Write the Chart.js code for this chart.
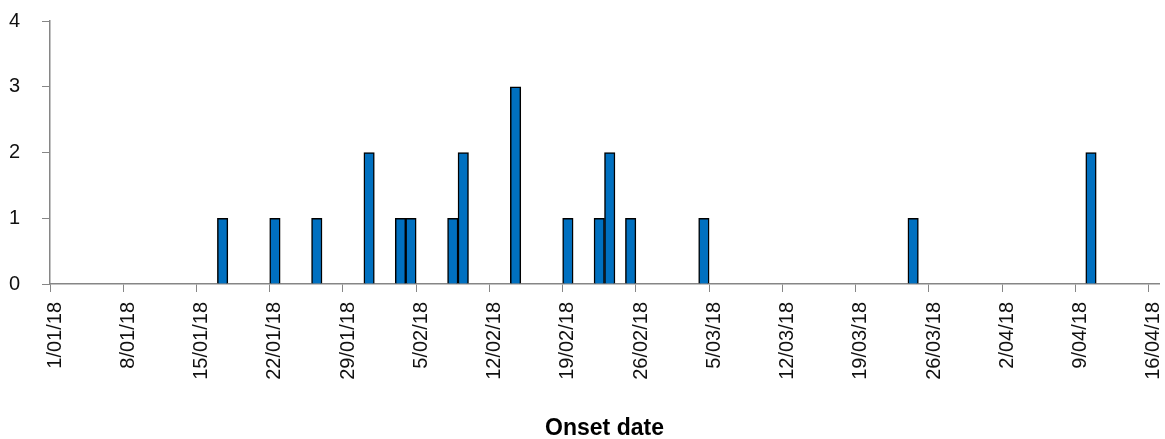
<!DOCTYPE html>
<html>
<head>
<meta charset="utf-8">
<script src="https://cdn.jsdelivr.net/npm/chart.js@4"></script>
<style>
  body { margin: 0; background: #fff; }
  #wrap { width: 1165px; height: 439px; position: relative; }
</style>
</head>
<body>
<div id="wrap"><canvas id="onsetChart"></canvas></div>
<script>
// cases by onset date
const onsetDates = ['17/01/18', '22/01/18', '26/01/18', '31/01/18', '3/02/18', '4/02/18', '8/02/18', '9/02/18',
  '14/02/18', '19/02/18', '22/02/18', '23/02/18', '25/02/18', '4/03/18', '24/03/18', '10/04/18'];
const caseCounts = [1, 1, 1, 2, 1, 1, 1, 2, 3, 1, 1, 2, 1, 1, 1, 2];

// labels shown on the axis (weekly)
const tickLabels = ['1/01/18', '8/01/18', '15/01/18', '22/01/18', '29/01/18', '5/02/18', '12/02/18', '19/02/18',
  '26/02/18', '5/03/18', '12/03/18', '19/03/18', '26/03/18', '2/04/18', '9/04/18', '16/04/18'];
const yTicks = [0, 1, 2, 3, 4];

// one category per day, 1 Jan to 16 Apr 2018
const days = [];
for (let d = new Date(2018, 0, 1); d <= new Date(2018, 3, 16); d.setDate(d.getDate() + 1)) {
  const mm = String(d.getMonth() + 1).padStart(2, '0');
  days.push(d.getDate() + '/' + mm + '/18');
}
const dailyCounts = days.map(day => {
  const i = onsetDates.indexOf(day);
  return i >= 0 ? caseCounts[i] : 0;
});

const axisColor = '#868686';

new Chart(document.getElementById('onsetChart'), {
  type: 'bar',
  data: {
    labels: days,
    datasets: [{
      data: dailyCounts,
      backgroundColor: '#0070C0',
      borderColor: '#000',
      borderWidth: 1.5,
      barPercentage: 1,
      categoryPercentage: 1
    }]
  },
  options: {
    responsive: true,
    maintainAspectRatio: false,
    animation: false,
    layout: { padding: { top: 21, right: 6, left: 0, bottom: 0 } },
    plugins: { legend: { display: false }, tooltip: { enabled: false } },
    scales: {
      x: {
        offset: true,
        grid: {
          offset: true,
          drawOnChartArea: false,
          tickLength: 8,
          color: ctx => (ctx.index !== undefined && ctx.tick && tickLabels.includes(days[ctx.index])) ? axisColor : 'rgba(0,0,0,0)'
        },
        border: { color: axisColor, width: 1.5 },
        ticks: {
          autoSkip: false,
          minRotation: 90,
          maxRotation: 90,
          padding: 10,
          color: '#111',
          font: { family: 'Liberation Sans', size: 20 },
          callback: function (val) {
            const lbl = this.getLabelForValue(val);
            return tickLabels.includes(lbl) ? lbl : '';
          }
        },
        title: {
          display: true,
          text: 'Onset date',
          color: '#000',
          font: { family: 'Liberation Sans', size: 23, weight: 'bold' },
          padding: { top: 4, bottom: -3 }
        },
        afterFit: scale => {
          scale.height = 155;
          scale.paddingLeft = 0;
          scale.paddingRight = 0;
        }
      },
      y: {
        min: 0,
        max: 4,
        afterBuildTicks: scale => { scale.ticks = yTicks.map(v => ({ value: v })); },
        grid: { drawOnChartArea: false, tickLength: 8, color: axisColor },
        border: { color: axisColor, width: 1.5 },
        ticks: {
          color: '#111',
          padding: 22,
          font: { family: 'Liberation Sans', size: 20 }
        },
        afterFit: scale => {
          scale.width = 50;
          scale.paddingTop = 0;
          scale.paddingBottom = 0;
        }
      }
    }
  }
});
</script>
</body>
</html>
